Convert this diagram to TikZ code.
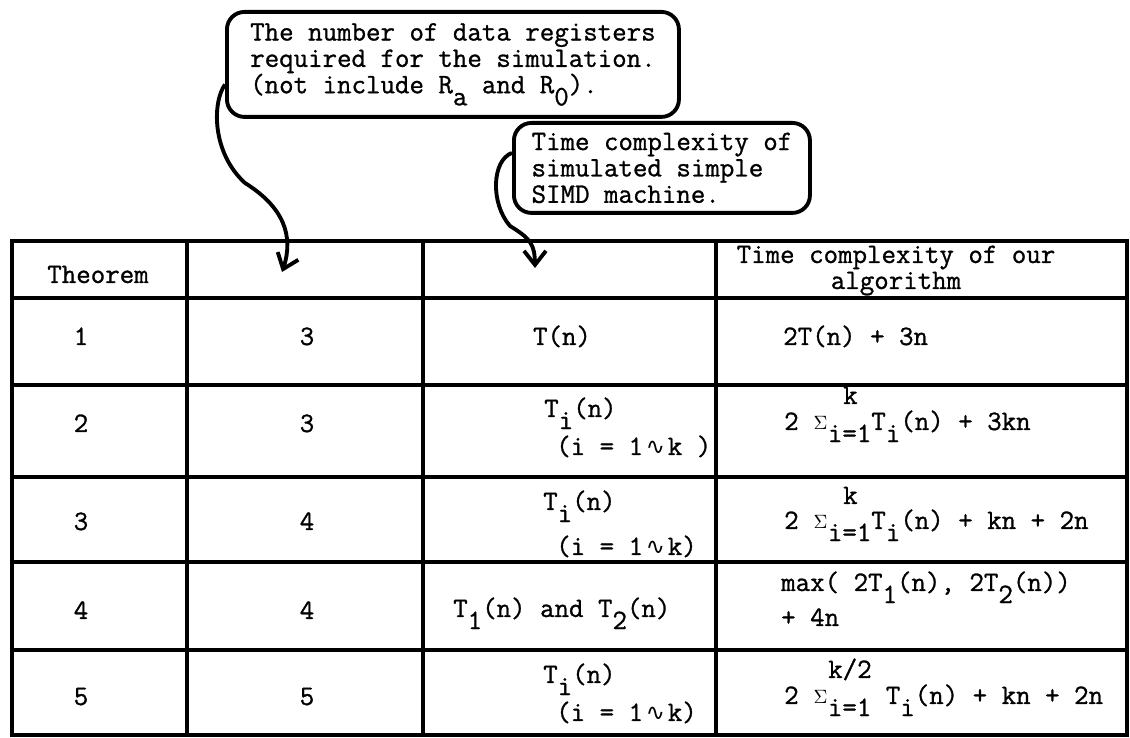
\documentclass[tikz,border=0pt]{standalone}
\usepackage{fontspec}
\setmonofont{Latin Modern Mono}[FakeBold=1]
\newfontfamily\wavefont{DejaVu Sans}
\usepackage{tikz}
\usetikzlibrary{arrows.meta}
\usetikzlibrary{bending}
% typewriter style half-line drop, small sigma, wave sign
\newcommand{\dn}[1]{\raisebox{-.43em}{#1}}
\newcommand{\sig}{\makebox[.525em]{$\scriptstyle\Sigma$}}
\newcommand{\wave}{{\wavefont\fontsize{13}{13}\selectfont ∿}}
\tikzset{
  txt/.style={font=\ttfamily\fontsize{16}{15}\selectfont},
  tabline/.style={line width=2.6pt},
  bubble/.style={txt, draw, line width=2.2pt, rounded corners=10pt,
    align=left, inner sep=0pt},
  tail/.style={line width=2.2pt, ->},
  >={Straight Barb[length=2.8mm,width=4.4mm]}
}

\begin{document}
\begin{tikzpicture}[x=2cm,y=2cm]
\useasboundingbox (0,0) rectangle (11.30,7.38);
% the two notes above the table
\node (regnote) at (2.25,7.28) [bubble, anchor=north west,
  minimum width=9.04cm, minimum height=2.1cm]
  {The number of data registers\\required for the simulation.\\(not include R\dn{a} and R\dn{0}).};
\node (simnote) at (5.12,6.17) [bubble, anchor=north west,
  minimum width=5.92cm, minimum height=1.8cm]
  {Time complexity of\\simulated simple\\SIMD machine.};
\coordinate (regtip) at (2.82,4.66);
\coordinate (simtip) at (5.35,4.70);
\draw[tail] ([yshift=-0.4cm]regnote.west) .. controls (2.12,6.35) and (2.12,5.85) .. (2.45,5.55)
  .. controls (2.85,5.30) and (2.95,5.00) .. (regtip);
\draw[tail] ([yshift=0.3cm]simnote.west) .. controls (4.92,5.78) and (4.90,5.35) .. (5.10,5.12)
  .. controls (5.33,4.98) and (5.35,4.92) .. (simtip);
% table rules
\draw[tabline] (0.12,0.03) rectangle (11.27,4.97);
\foreach \x in {1.87,4.23,7.16}
  \draw[tabline] (\x,0.03)--(\x,4.97);
\foreach \y in {4.40,3.53,2.61,1.76,0.88}
  \draw[tabline] (0.12,\y)--(11.27,\y);
% header
\node (thm) at (0.98,4.55) [txt, anchor=base]{Theorem};
\node (ourhead) at (8.96,4.75) [txt, anchor=base]{Time complexity of our};
\node (ourhead2) at (8.96,4.49) [txt, anchor=base]{algorithm};
% theorem numbers
\node (th1) at (0.81,3.93) [txt, anchor=base]{1};
\node (th2) at (0.81,3.06) [txt, anchor=base]{2};
\node (th3) at (0.81,2.08) [txt, anchor=base]{3};
\node (th4) at (0.81,1.19) [txt, anchor=base]{4};
\node (th5) at (0.81,0.33) [txt, anchor=base]{5};
% registers
\node (reg1) at (3.07,3.93) [txt, anchor=base]{3};
\node (reg2) at (3.07,3.06) [txt, anchor=base]{3};
\node (reg3) at (3.07,2.08) [txt, anchor=base]{4};
\node (reg4) at (3.07,1.19) [txt, anchor=base]{4};
\node (reg5) at (3.07,0.33) [txt, anchor=base]{5};
% simulated machine
\node (sim1) at (5.62,3.93) [txt, anchor=base]{T(n)};
\node (sim2) at (5.38,3.21) [txt, anchor=base west]{T\dn{i}(n)};
\node (rng2) at (5.50,2.83) [txt, anchor=base west]{(i = 1\hspace{.1em}\wave\hspace{.1em}k )};
\node (sim3) at (5.37,2.28) [txt, anchor=base west]{T\dn{i}(n)};
\node (rng3) at (5.50,1.83) [txt, anchor=base west]{(i = 1\hspace{.1em}\wave\hspace{.1em}k)};
\node (sim4) at (4.47,1.21) [txt, anchor=base west]{T\dn{1}(n) and T\dn{2}(n)};
\node (sim5) at (5.37,0.55) [txt, anchor=base west]{T\dn{i}(n)};
\node (rng5) at (5.50,0.17) [txt, anchor=base west]{(i = 1\hspace{.1em}\wave\hspace{.1em}k)};
% our algorithm
\node (our1) at (7.77,3.93) [txt, anchor=base west]{2T(n) + 3n};
\node (up2) at (8.37,3.34) [txt, anchor=base west]{k};
\node (our2) at (7.78,3.08) [txt, anchor=base west]{2 \sig\dn{i=1}T\dn{i}(n) + 3kn};
\node (up3) at (8.37,2.34) [txt, anchor=base west]{k};
\node (our3) at (7.78,2.09) [txt, anchor=base west]{2 \sig\dn{i=1}T\dn{i}(n) + kn + 2n};
\node (our4) at (7.75,1.47) [txt, anchor=base west]{max( 2T\dn{1}(n), 2T\dn{2}(n))};
\node (our4b) at (7.75,1.12) [txt, anchor=base west]{+ 4n};
\node (up5) at (8.22,0.60) [txt, anchor=base west]{k/2};
\node (our5) at (7.78,0.34) [txt, anchor=base west]{2 \sig\dn{i=1} T\dn{i}(n) + kn + 2n};
\end{tikzpicture}
\end{document}
